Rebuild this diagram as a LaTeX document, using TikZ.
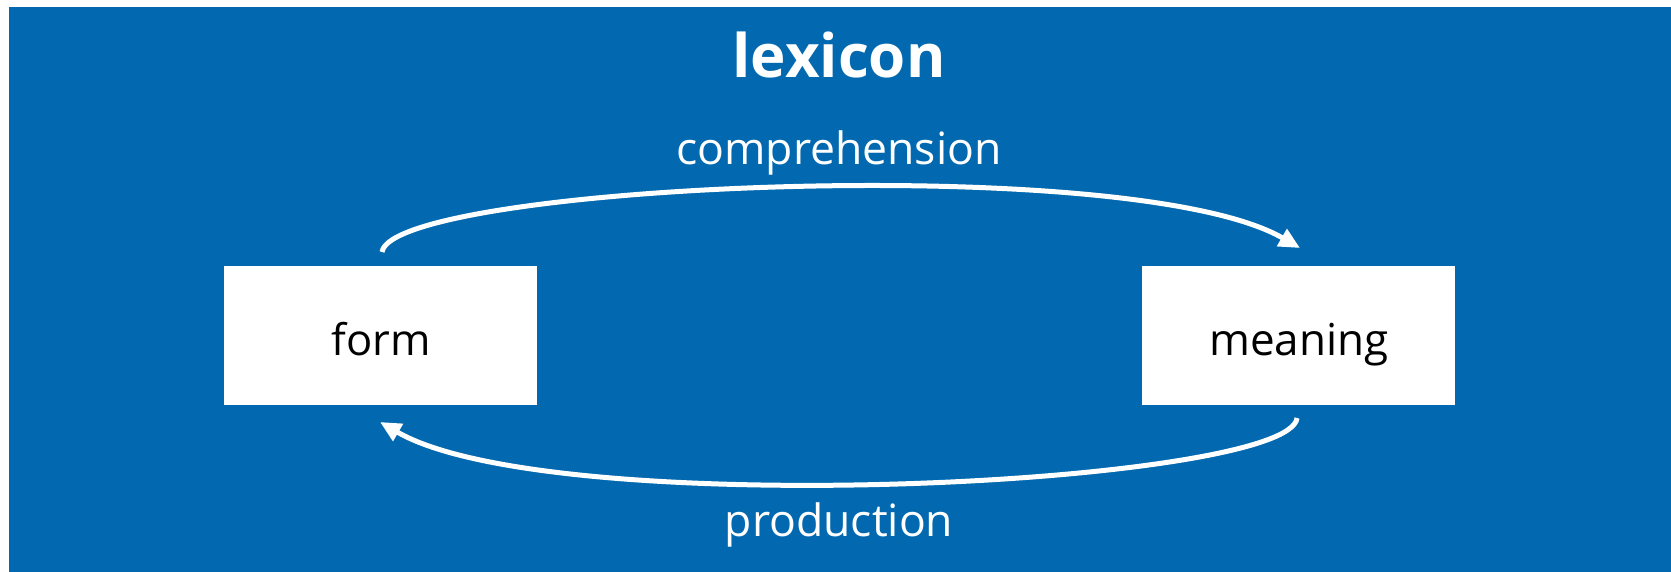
\documentclass[tikz,border=0pt]{standalone}
\usepackage{fontspec}
\setmainfont{Open Sans}
\usetikzlibrary{arrows.meta}
\definecolor{lexblue}{RGB}{2,105,176}
\begin{document}
\begin{tikzpicture}[x=1pt,y=-1pt,
  box/.style={fill=white,draw=none,minimum width=313pt,minimum height=139pt,inner sep=0pt},
  lbl/.style={font=\fontsize{44.5}{50}\selectfont,anchor=base,inner sep=0pt},
  flow/.style={draw=white,line width=5pt,-{Triangle[length=21pt,width=19pt]}}]
\useasboundingbox (0,0) rectangle (1671,572);
\fill[lexblue] (9,7) rectangle (1671,572);
\node[box] (form) at (380.5,335.5) {};
\node[box] (meaning) at (1298.5,335.5) {};
\node[lbl,text=black,font=\fontsize{43.5}{50}\selectfont] (formt) at (381,355) {form};
\node[lbl,text=black,font=\fontsize{44}{50}\selectfont] (meaningt) at (1299,355) {meaning};
\node[lbl,text=white,font=\bfseries\fontsize{60}{66}\selectfont] (title) at (839,78) {lexicon};
\node[lbl,text=white] (comp) at (839,165) {comprehension};
\node[lbl,text=white] (prod) at (839,536) {production};
\coordinate (a1) at (382,252);
\coordinate (a2) at (1300,248);
\coordinate (b1) at (1297,418);
\coordinate (b2) at (380,422);
\draw[flow] (a1) .. controls (392,185) and (1130,150) .. (a2);
\draw[flow] (b1) .. controls (1290,485) and (552,522) .. (b2);
\end{tikzpicture}
\end{document}
